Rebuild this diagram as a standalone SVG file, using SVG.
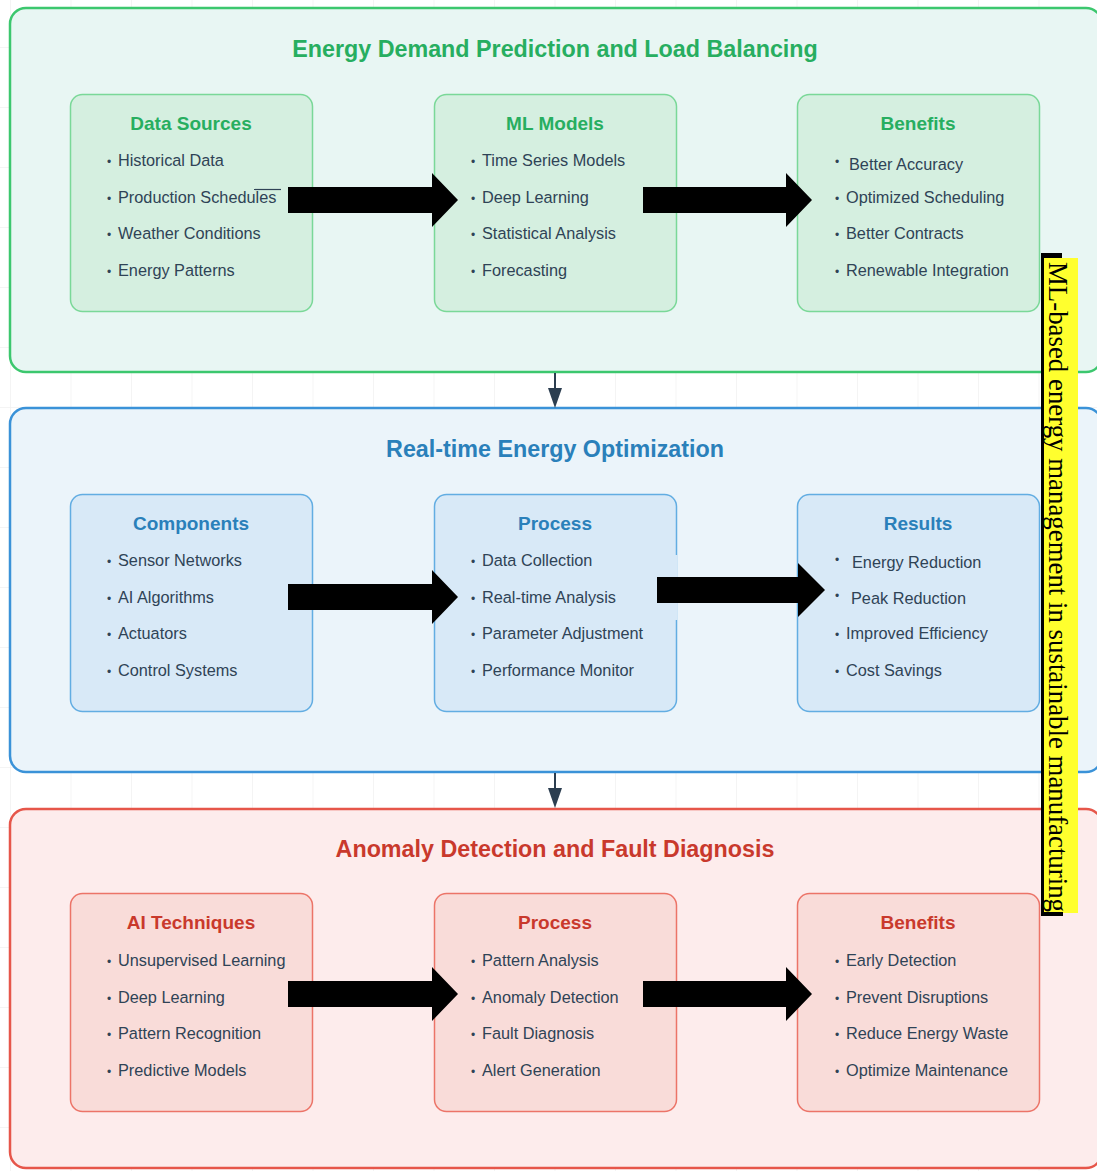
<svg xmlns="http://www.w3.org/2000/svg" width="1097" height="1171" viewBox="0 0 1097 1171">
<defs>
<pattern id="grid" x="10" y="47" width="60.5" height="60" patternUnits="userSpaceOnUse">
<path d="M0 0V60M0 0H60.5" fill="none" stroke="#f1f1f1" stroke-width="1.5"/>
</pattern>
</defs>
<style>
.stitle{font-family:"Liberation Sans",Arial,sans-serif;font-weight:bold;font-size:23.3px;text-anchor:middle}
.btitle{font-family:"Liberation Sans",Arial,sans-serif;font-weight:bold;font-size:19px;text-anchor:middle}
.item{font-family:"Liberation Sans",Arial,sans-serif;font-size:16.3px;fill:#2f4356}
.bul{font-size:12px}
.g .sec{fill:#e8f6f3;stroke:#3cc76e;stroke-width:2.5}
.g .box{fill:#d5efe0;stroke:#7ad898;stroke-width:1.5}
.g .stitle,.g .btitle{fill:#27ae60}
.b .sec{fill:#ebf4fa;stroke:#3a92d8;stroke-width:2.5}
.b .box{fill:#d8e9f7;stroke:#62ade2;stroke-width:1.5}
.b .stitle,.b .btitle{fill:#2a80ba}
.r .sec{fill:#fdecec;stroke:#e6564a;stroke-width:2.5}
.r .box{fill:#f9dcd9;stroke:#ec7468;stroke-width:1.5}
.r .stitle,.r .btitle{fill:#c9392c}
.arrow{fill:#000}
.conn{stroke:#2c3e50;stroke-width:2}
.head{fill:#2c3e50}
</style>
<rect width="1097" height="1171" fill="#ffffff"/>
<rect width="1097" height="1171" fill="url(#grid)"/>

<g id="section1" class="g">
<rect class="sec" x="10" y="8" width="1092" height="364" rx="16"/>
<text class="stitle" x="555" y="57">Energy Demand Prediction and Load Balancing</text>
<g id="data-sources">
<rect class="box" x="70.5" y="94.5" width="242" height="217" rx="12"/>
<text class="btitle" x="191" y="130">Data Sources</text>
<text class="item" y="166"><tspan class="bul" x="107">•</tspan><tspan x="118">Historical Data</tspan></text>
<text class="item" y="203"><tspan class="bul" x="107">•</tspan><tspan x="118">Production Schedules</tspan></text>
<text class="item" y="239"><tspan class="bul" x="107">•</tspan><tspan x="118">Weather Conditions</tspan></text>
<text class="item" y="276"><tspan class="bul" x="107">•</tspan><tspan x="118">Energy Patterns</tspan></text>
<line x1="254" y1="189.5" x2="281" y2="189.5" stroke="#2f4356" stroke-width="1.2"/>
</g>
<g id="ml-models">
<rect class="box" x="434.5" y="94.5" width="242" height="217" rx="12"/>
<text class="btitle" x="555" y="130">ML Models</text>
<text class="item" y="166"><tspan class="bul" x="471">•</tspan><tspan x="482">Time Series Models</tspan></text>
<text class="item" y="203"><tspan class="bul" x="471">•</tspan><tspan x="482">Deep Learning</tspan></text>
<text class="item" y="239"><tspan class="bul" x="471">•</tspan><tspan x="482">Statistical Analysis</tspan></text>
<text class="item" y="276"><tspan class="bul" x="471">•</tspan><tspan x="482">Forecasting</tspan></text>
</g>
<g id="benefits1">
<rect class="box" x="797.5" y="94.5" width="242" height="217" rx="12"/>
<text class="btitle" x="918" y="130">Benefits</text>
<text class="item" y="170"><tspan class="bul" x="835" dy="-4">•</tspan><tspan x="849" dy="4">Better Accuracy</tspan></text>
<text class="item" y="203"><tspan class="bul" x="835">•</tspan><tspan x="846">Optimized Scheduling</tspan></text>
<text class="item" y="239"><tspan class="bul" x="835">•</tspan><tspan x="846">Better Contracts</tspan></text>
<text class="item" y="276"><tspan class="bul" x="835">•</tspan><tspan x="846">Renewable Integration</tspan></text>
</g>
</g>

<g id="section2" class="b">
<rect class="sec" x="10" y="408" width="1092" height="364" rx="16"/>
<text class="stitle" x="555" y="457">Real-time Energy Optimization</text>
<g id="components">
<rect class="box" x="70.5" y="494.5" width="242" height="217" rx="12"/>
<text class="btitle" x="191" y="530">Components</text>
<text class="item" y="566"><tspan class="bul" x="107">•</tspan><tspan x="118">Sensor Networks</tspan></text>
<text class="item" y="603"><tspan class="bul" x="107">•</tspan><tspan x="118">AI Algorithms</tspan></text>
<text class="item" y="639"><tspan class="bul" x="107">•</tspan><tspan x="118">Actuators</tspan></text>
<text class="item" y="676"><tspan class="bul" x="107">•</tspan><tspan x="118">Control Systems</tspan></text>
</g>
<g id="process2">
<rect class="box" x="434.5" y="494.5" width="242" height="217" rx="12"/>
<text class="btitle" x="555" y="530">Process</text>
<text class="item" y="566"><tspan class="bul" x="471">•</tspan><tspan x="482">Data Collection</tspan></text>
<text class="item" y="603"><tspan class="bul" x="471">•</tspan><tspan x="482">Real-time Analysis</tspan></text>
<text class="item" y="639"><tspan class="bul" x="471">•</tspan><tspan x="482">Parameter Adjustment</tspan></text>
<text class="item" y="676"><tspan class="bul" x="471">•</tspan><tspan x="482">Performance Monitor</tspan></text>
<rect x="672" y="555" width="5.5" height="65" fill="#d8e9f7"/>
</g>
<g id="results">
<rect class="box" x="797.5" y="494.5" width="242" height="217" rx="12"/>
<text class="btitle" x="918" y="530">Results</text>
<text class="item" y="568"><tspan class="bul" x="835" dy="-4">•</tspan><tspan x="852" dy="4">Energy Reduction</tspan></text>
<text class="item" y="604"><tspan class="bul" x="835" dy="-4">•</tspan><tspan x="851" dy="4">Peak Reduction</tspan></text>
<text class="item" y="639"><tspan class="bul" x="835">•</tspan><tspan x="846">Improved Efficiency</tspan></text>
<text class="item" y="676"><tspan class="bul" x="835">•</tspan><tspan x="846">Cost Savings</tspan></text>
</g>
</g>

<g id="section3" class="r">
<rect class="sec" x="10" y="809" width="1092" height="359" rx="16"/>
<text class="stitle" x="555" y="857">Anomaly Detection and Fault Diagnosis</text>
<g id="ai-techniques">
<rect class="box" x="70.5" y="893.5" width="242" height="218" rx="12"/>
<text class="btitle" x="191" y="929">AI Techniques</text>
<text class="item" y="966"><tspan class="bul" x="107">•</tspan><tspan x="118">Unsupervised Learning</tspan></text>
<text class="item" y="1003"><tspan class="bul" x="107">•</tspan><tspan x="118">Deep Learning</tspan></text>
<text class="item" y="1039"><tspan class="bul" x="107">•</tspan><tspan x="118">Pattern Recognition</tspan></text>
<text class="item" y="1076"><tspan class="bul" x="107">•</tspan><tspan x="118">Predictive Models</tspan></text>
</g>
<g id="process3">
<rect class="box" x="434.5" y="893.5" width="242" height="218" rx="12"/>
<text class="btitle" x="555" y="929">Process</text>
<text class="item" y="966"><tspan class="bul" x="471">•</tspan><tspan x="482">Pattern Analysis</tspan></text>
<text class="item" y="1003"><tspan class="bul" x="471">•</tspan><tspan x="482">Anomaly Detection</tspan></text>
<text class="item" y="1039"><tspan class="bul" x="471">•</tspan><tspan x="482">Fault Diagnosis</tspan></text>
<text class="item" y="1076"><tspan class="bul" x="471">•</tspan><tspan x="482">Alert Generation</tspan></text>
</g>
<g id="benefits3">
<rect class="box" x="797.5" y="893.5" width="242" height="218" rx="12"/>
<text class="btitle" x="918" y="929">Benefits</text>
<text class="item" y="966"><tspan class="bul" x="835">•</tspan><tspan x="846">Early Detection</tspan></text>
<text class="item" y="1003"><tspan class="bul" x="835">•</tspan><tspan x="846">Prevent Disruptions</tspan></text>
<text class="item" y="1039"><tspan class="bul" x="835">•</tspan><tspan x="846">Reduce Energy Waste</tspan></text>
<text class="item" y="1076"><tspan class="bul" x="835">•</tspan><tspan x="846">Optimize Maintenance</tspan></text>
</g>
</g>

<g id="connectors">
<path class="arrow" d="M288 187H432V173L458 200L432 227V213H288Z"/>
<path class="arrow" d="M643 187H786V173L812 200L786 227V213H643Z"/>
<path class="arrow" d="M288 584H432V570L458 597L432 624V610H288Z"/>
<path class="arrow" d="M657 577H798V563L825 590L798 617V603H657Z"/>
<path class="arrow" d="M288 981H432V967L458 994L432 1021V1007H288Z"/>
<path class="arrow" d="M643 981H786V967L812 994L786 1021V1007H643Z"/>
<line class="conn" x1="555" y1="373" x2="555" y2="392"/>
<path class="head" d="M548 388H562L555 408Z"/>
<line class="conn" x1="555" y1="773" x2="555" y2="792"/>
<path class="head" d="M548 788H562L555 808Z"/>
</g>

<g id="label">
<rect x="1043" y="258" width="35" height="655" fill="#ffff2e"/>
<path d="M1041 253H1062V258H1044V912H1063V916H1041Z" fill="#000"/>
<text x="262" y="-1049" transform="rotate(90)" font-family="'Liberation Serif','Times New Roman',serif" font-size="27" fill="#000" textLength="650" lengthAdjust="spacingAndGlyphs">ML-based energy management in sustainable manufacturing</text>
</g>
</svg>
